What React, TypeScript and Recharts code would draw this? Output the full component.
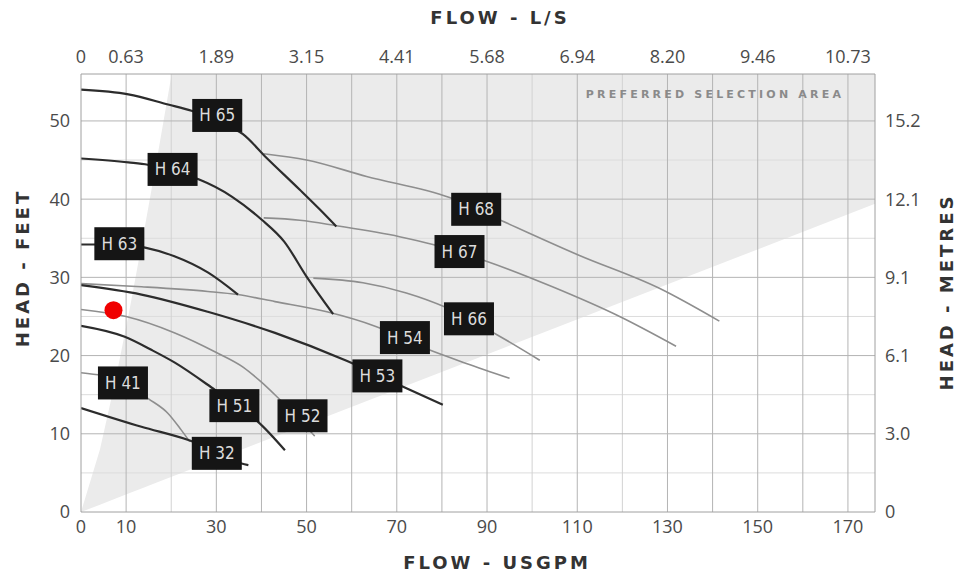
import React from "react";
import { ComposedChart, Line, Area, Scatter, XAxis, YAxis, ReferenceLine, Label } from "recharts";

// ---- axes ----
const gpmTicks = [0, 10, 30, 50, 70, 90, 110, 130, 150, 170];
const lsLabels = ["0", "0.63", "1.89", "3.15", "4.41", "5.68", "6.94", "8.20", "9.46", "10.73"];
const feetTicks = [0, 10, 20, 30, 40, 50];
const metreLabels = ["0", "3.0", "6.1", "9.1", "12.1", "15.2"];
const gridMajorX = [10, 30, 40, 50, 60, 70, 80, 90, 110, 130, 140, 150, 160, 170];
const gridMinorX = [20, 100, 120];
const gridMajorY = [10, 20, 30, 40, 50];
const gridMinorY = [5, 15, 25, 35, 45];

// ---- preferred selection area (range) ----
const areaFlow = [0, 4.2, 7.7, 10.8, 13.7, 16.8, 20.1, 176];
const areaLow = [0, 0.94, 1.72, 2.42, 3.07, 3.76, 4.5, 39.4];
const areaHigh = [0, 8, 17, 26, 35, 45, 56, 56];

// ---- pump curves (flow USGPM, head feet) ----
const h65Flow = [0, 10.5, 19.3, 24.5, 30, 35.9, 41.1, 48.5, 52.9, 56.6];
const h65Head = [54.0, 53.4, 52.1, 51.3, 50.0, 48.3, 45.3, 41.2, 38.7, 36.5];
const h68Flow = [40.5, 50, 63.3, 81.7, 93, 110.5, 128.2, 141.5];
const h68Head = [45.8, 45.0, 42.9, 40.2, 37.3, 32.8, 28.6, 24.4];
const h64Flow = [0, 10.5, 14.8, 20, 26.2, 33.5, 40, 45, 50, 55.9];
const h64Head = [45.2, 44.7, 44.4, 43.6, 42.5, 40.3, 37.4, 34.6, 30.1, 25.3];
const h67Flow = [40.5, 48.5, 56.6, 70.6, 78, 89.7, 104.5, 119.4, 131.9];
const h67Head = [37.6, 37.3, 36.6, 35.2, 34.2, 32.1, 28.8, 25.0, 21.2];
const h66Flow = [51.5, 62.5, 72.1, 80.7, 92.1, 101.7];
const h66Head = [29.9, 29.3, 28.0, 26.2, 22.7, 19.4];
const h63Flow = [0, 8.4, 14.2, 20.7, 28.2, 34.8];
const h63Head = [34.2, 34.2, 33.8, 32.7, 30.6, 27.8];
const h54Flow = [0, 13.4, 28.1, 34.7, 43, 54.5, 65.5, 77.3, 85.4, 95];
const h54Head = [29.2, 28.8, 28.2, 27.8, 26.9, 25.6, 23.7, 20.7, 19.0, 17.1];
const h53Flow = [0, 13.4, 28.1, 43, 59, 71.4, 80.2];
const h53Head = [29.0, 27.8, 25.6, 22.9, 19.3, 16.0, 13.7];
const h52Flow = [0, 10, 20.8, 30, 36, 40, 43.5, 47.5, 51.8];
const h52Head = [25.9, 25.0, 22.9, 20.4, 18.5, 16.6, 14.7, 12.4, 9.7];
const h51Flow = [0, 9.7, 15.7, 20.8, 29.7, 35, 39.3, 45.2];
const h51Head = [23.8, 22.4, 20.7, 19.1, 15.6, 13.4, 11.5, 7.9];
const h41Flow = [0, 9.3, 14.9, 19.3, 22.2, 24.1];
const h41Head = [17.8, 16.7, 14.5, 12.6, 10.5, 9.0];
const h32Flow = [0, 13.4, 23.8, 30, 35.6, 37.1];
const h32Head = [13.3, 10.9, 9.2, 7.8, 6.2, 6.0];

// ---- curve tags ----
const tagNames = ["H 65", "H 64", "H 63", "H 68", "H 67", "H 66", "H 54", "H 53", "H 52", "H 51", "H 41", "H 32"];
const tagFlow = [30.2, 20.3, 8.5, 87.6, 83.9, 86, 71.8, 65.7, 49.1, 34, 9.3, 30.1];
const tagHead = [50.7, 43.8, 34.3, 38.7, 33.3, 24.7, 22.3, 17.4, 12.3, 13.6, 16.5, 7.5];

// ---- marked point ----
const markFlow = [7.2];
const markHead = [25.8];

const pts = (xs: number[], ys: number[]) => xs.map((x, i) => ({ x, y: ys[i] }));
const areaData = areaFlow.map((x, i) => ({ x, range: [areaLow[i], areaHigh[i]] }));
const tagData = tagNames.map((name, i) => ({ x: tagFlow[i], y: tagHead[i], name }));
const markData = pts(markFlow, markHead);

const DARK = "#2c2c2c";
const GREY = "#8e8e8e";

const curves = [
  { id: "h68", data: pts(h68Flow, h68Head), c: GREY, w: 1.6 },
  { id: "h67", data: pts(h67Flow, h67Head), c: GREY, w: 1.6 },
  { id: "h66", data: pts(h66Flow, h66Head), c: GREY, w: 1.6 },
  { id: "h54", data: pts(h54Flow, h54Head), c: GREY, w: 1.6 },
  { id: "h52", data: pts(h52Flow, h52Head), c: GREY, w: 1.6 },
  { id: "h41", data: pts(h41Flow, h41Head), c: GREY, w: 1.6 },
  { id: "h65", data: pts(h65Flow, h65Head), c: DARK, w: 2.2 },
  { id: "h64", data: pts(h64Flow, h64Head), c: DARK, w: 2.2 },
  { id: "h63", data: pts(h63Flow, h63Head), c: DARK, w: 2.2 },
  { id: "h53", data: pts(h53Flow, h53Head), c: DARK, w: 2.2 },
  { id: "h51", data: pts(h51Flow, h51Head), c: DARK, w: 2.2 },
  { id: "h32", data: pts(h32Flow, h32Head), c: DARK, w: 2.2 },
];

const tickStyle = { fill: "#4a4a4a", fontSize: 18, fontFamily: "'Open Sans', sans-serif" };
const titleStyle: React.CSSProperties = {
  fontFamily: "'DejaVu Sans', sans-serif",
  fontWeight: 700,
  fontSize: 18,
  letterSpacing: 3,
  fill: "#333",
};

const TagShape = (props: any) => {
  const { cx, cy, payload } = props;
  return (
    <g>
      <rect x={cx - 25} y={cy - 16.5} width={50} height={33} fill="#151515" />
      <text
        x={cx}
        y={cy}
        textAnchor="middle"
        dominantBaseline="central"
        fill="#dcdcdc"
        fontSize={17}
        fontFamily="'Liberation Sans Narrow', 'DejaVu Sans Condensed', sans-serif"
      >
        {payload.name}
      </text>
    </g>
  );
};

const MarkShape = (props: any) => <circle cx={props.cx} cy={props.cy} r={9} fill="#f00000" />;

export default function App() {
  return (
    <div style={{ position: "absolute", left: 0, top: 0, width: 960, height: 578, background: "#fff" }}>
      <ComposedChart width={960} height={578} margin={{ top: 44, right: 35, bottom: 36, left: 31 }}>
        <XAxis
          xAxisId="b"
          dataKey="x"
          type="number"
          domain={[0, 176]}
          ticks={gpmTicks}
          allowDataOverflow
          height={30}
          tickLine={false}
          axisLine={{ stroke: "#a0a0a0" }}
          tick={tickStyle}
          interval={0}
        >
          <Label
            content={() => (
              <text x={497} y={562} textAnchor="middle" dominantBaseline="central" style={titleStyle}>
                FLOW - USGPM
              </text>
            )}
          />
        </XAxis>
        <XAxis
          xAxisId="t"
          dataKey="x"
          orientation="top"
          type="number"
          domain={[0, 176]}
          ticks={gpmTicks}
          allowDataOverflow
          height={30}
          tickLine={false}
          axisLine={{ stroke: "#a0a0a0" }}
          tick={tickStyle}
          tickMargin={5}
          interval={0}
          tickFormatter={(v: number) => lsLabels[gpmTicks.indexOf(v)]}
        >
          <Label
            content={() => (
              <g>
                <text x={500} y={17} textAnchor="middle" dominantBaseline="central" style={titleStyle}>
                  FLOW - L/S
                </text>
                <text
                  x={715}
                  y={94}
                  textAnchor="middle"
                  dominantBaseline="central"
                  style={{ fontFamily: "'DejaVu Sans', sans-serif", fontWeight: 700, fontSize: 11, letterSpacing: 3.2, fill: "#8a8a8a" }}
                >
                  PREFERRED SELECTION AREA
                </text>
              </g>
            )}
          />
        </XAxis>
        <YAxis
          yAxisId="l"
          type="number"
          domain={[0, 56]}
          ticks={feetTicks}
          allowDataOverflow
          width={50}
          tickLine={false}
          axisLine={{ stroke: "#a0a0a0" }}
          tick={tickStyle}
          tickMargin={5}
          interval={0}
        >
          <Label
            content={() => (
              <text
                x={22}
                y={268}
                textAnchor="middle"
                dominantBaseline="central"
                transform="rotate(-90 22 268)"
                style={titleStyle}
              >
                HEAD - FEET
              </text>
            )}
          />
        </YAxis>
        <YAxis
          yAxisId="r"
          orientation="right"
          type="number"
          domain={[0, 56]}
          ticks={feetTicks}
          allowDataOverflow
          width={50}
          tickLine={false}
          axisLine={{ stroke: "#a0a0a0" }}
          tick={tickStyle}
          tickMargin={4}
          interval={0}
          tickFormatter={(v: number) => metreLabels[feetTicks.indexOf(v)]}
        >
          <Label
            content={() => (
              <text
                x={946}
                y={292}
                textAnchor="middle"
                dominantBaseline="central"
                transform="rotate(-90 946 292)"
                style={titleStyle}
              >
                HEAD - METRES
              </text>
            )}
          />
        </YAxis>

        <Area
          xAxisId="t"
          yAxisId="r"
          data={areaData}
          dataKey="range"
          type="linear"
          fill="#ebebeb"
          fillOpacity={1}
          stroke="none"
          isAnimationActive={false}
        />

        {gridMinorY.map((v) => (
          <ReferenceLine key={"my" + v} xAxisId="b" yAxisId="l" y={v} stroke="#dcdcdc" strokeWidth={1} />
        ))}
        {gridMinorX.map((v) => (
          <ReferenceLine key={"mx" + v} xAxisId="b" yAxisId="l" x={v} stroke="#d2d2d2" strokeWidth={1} />
        ))}
        {gridMajorY.map((v) => (
          <ReferenceLine key={"gy" + v} xAxisId="b" yAxisId="l" y={v} stroke="#b4b4b4" strokeWidth={1} />
        ))}
        {gridMajorX.map((v) => (
          <ReferenceLine key={"gx" + v} xAxisId="b" yAxisId="l" x={v} stroke="#b4b4b4" strokeWidth={1} />
        ))}

        {curves.map((c) => (
          <Line
            key={c.id}
            xAxisId="b"
            yAxisId="l"
            data={c.data}
            dataKey="y"
            type="monotone"
            stroke={c.c}
            strokeWidth={c.w}
            dot={false}
            activeDot={false}
            isAnimationActive={false}
          />
        ))}

        <Scatter
          xAxisId="b"
          yAxisId="l"
          data={markData}
          dataKey="y"
          shape={MarkShape}
          isAnimationActive={false}
        />
        <Scatter
          xAxisId="b"
          yAxisId="l"
          data={tagData}
          dataKey="y"
          shape={TagShape}
          isAnimationActive={false}
        />
      </ComposedChart>
    </div>
  );
}
